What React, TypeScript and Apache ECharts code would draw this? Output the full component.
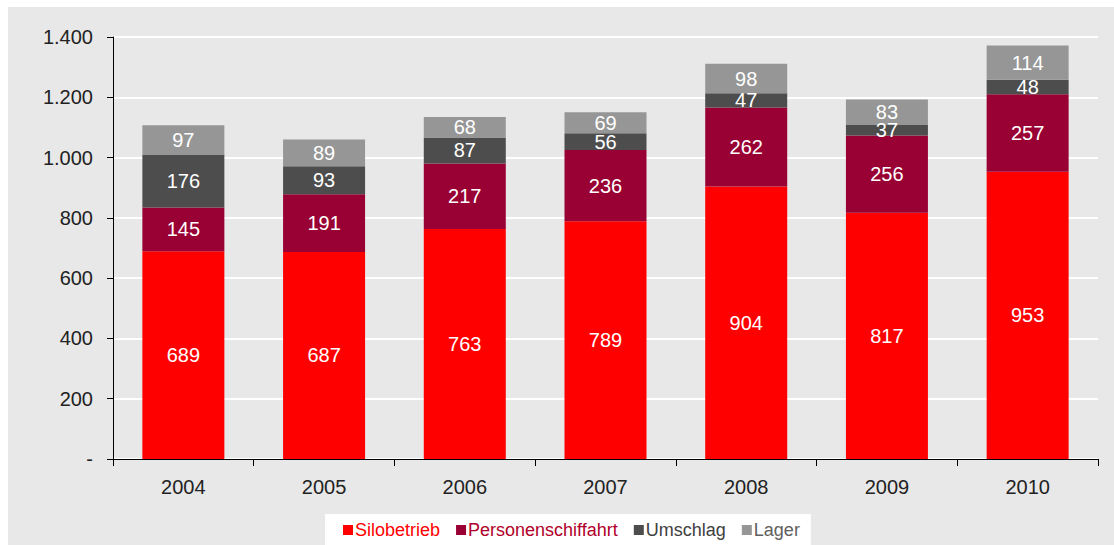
import React, { useEffect, useRef } from "react";
import * as echarts from "echarts";

const years = ["2004", "2005", "2006", "2007", "2008", "2009", "2010"];
const silobetrieb = [689, 687, 763, 789, 904, 817, 953];
const personenschiffahrt = [145, 191, 217, 236, 262, 256, 257];
const umschlag = [176, 93, 87, 56, 47, 37, 48];
const lager = [97, 89, 68, 69, 98, 83, 114];

const seriesNames = ["Silobetrieb", "Personenschiffahrt", "Umschlag", "Lager"];
const seriesColors = ["#ff0000", "#990033", "#4d4d4d", "#969696"];
const legendTextColors = ["#ff0000", "#b0002a", "#404040", "#606060"];

const FONT = "Liberation Sans, Arial, sans-serif";

export default function App() {
  const ref = useRef<HTMLDivElement>(null);
  useEffect(() => {
    if (!ref.current) return;
    const chart = echarts.init(ref.current, null, { renderer: "svg" });
    const dataSets = [silobetrieb, personenschiffahrt, umschlag, lager];
    chart.setOption({
      animation: false,
      backgroundColor: "#e8e8e8",
      textStyle: { fontFamily: FONT },
      grid: { left: 105, right: 16, top: 30, bottom: 86 },
      legend: {
        bottom: 0,
        left: 317,
        backgroundColor: "#ffffff",
        padding: [7, 11, 6, 18],
        itemWidth: 10,
        itemHeight: 10,
        itemGap: 16,
        icon: "rect",
        textStyle: { fontSize: 18, fontFamily: FONT, padding: [0, 0, 0, -3] },
        data: seriesNames.map((n, i) => ({
          name: n,
          textStyle: { color: legendTextColors[i] },
        })),
      },
      xAxis: {
        type: "category",
        data: years,
        axisLine: { lineStyle: { color: "#000", width: 1 } },
        axisTick: { show: true, length: 7, lineStyle: { color: "#000" } },
        axisLabel: { color: "#222", fontSize: 20, margin: 18, fontFamily: FONT },
        splitLine: { show: false },
      },
      yAxis: {
        type: "value",
        min: 0,
        max: 1400,
        interval: 200,
        axisLine: { show: true, lineStyle: { color: "#000", width: 1 } },
        axisTick: { show: true, length: 6, lineStyle: { color: "#000" } },
        axisLabel: {
          color: "#222",
          fontSize: 20,
          margin: 20,
          fontFamily: FONT,
          formatter: (v: number) =>
            v === 0 ? "-" : String(v).replace(/\B(?=(\d{3})+(?!\d))/g, "."),
        },
        splitLine: { show: true, lineStyle: { color: "#ffffff", width: 2 } },
      },
      series: seriesNames.map((n, i) => ({
        name: n,
        type: "bar",
        stack: "total",
        barWidth: 82,
        data: dataSets[i],
        itemStyle: { color: seriesColors[i] },
        label: {
          show: true,
          position: "inside",
          color: "#ffffff",
          fontSize: 20,
          fontFamily: FONT,
        },
      })),
    });
    return () => chart.dispose();
  }, []);
  return (
    <div
      ref={ref}
      style={{ position: "absolute", left: 8, top: 7, width: 1106, height: 538 }}
    />
  );
}
